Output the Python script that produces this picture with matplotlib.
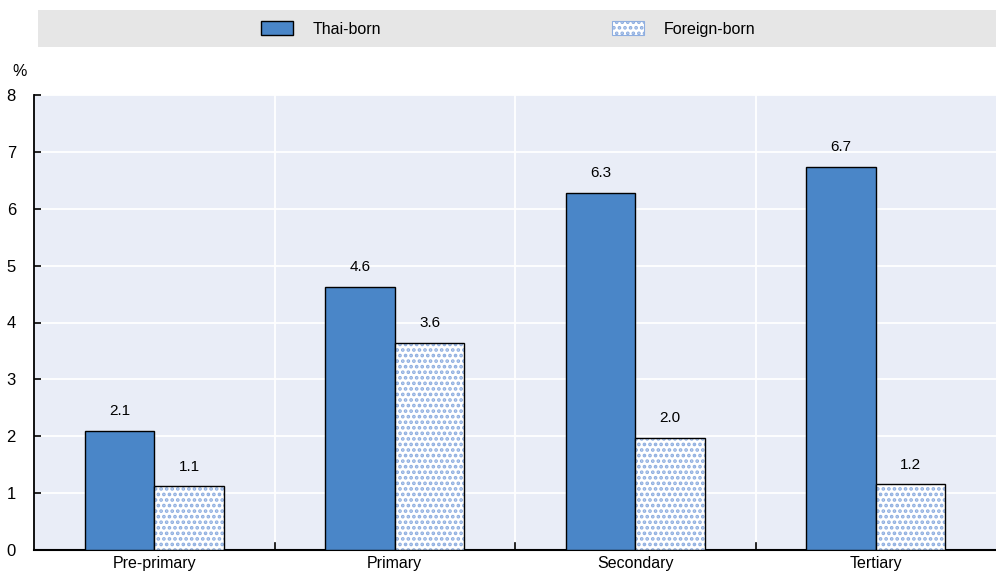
import matplotlib
matplotlib.use('Agg')
import matplotlib.pyplot as plt
import numpy as np
from matplotlib.patches import Rectangle

categories = ['Pre-primary', 'Primary', 'Secondary', 'Tertiary']
thai_born = [2.1, 4.6, 6.3, 6.7]
thai_heights = [2.1, 4.63, 6.28, 6.74]
foreign_born = [1.1, 3.6, 2.0, 1.2]
foreign_heights = [1.12, 3.64, 1.97, 1.16]

plt.rcParams['font.family'] = ['Liberation Sans', 'DejaVu Sans']
plt.rcParams['hatch.linewidth'] = 1.8

fig = plt.figure(figsize=(9.96, 5.75), dpi=100)
ax = fig.add_axes([34 / 996, 25 / 575, 962 / 996, 455 / 575])
ax.set_facecolor('#e9edf7')

x = np.arange(len(categories))
w = 0.29
bars1 = ax.bar(x - w / 2, thai_heights, w, color='#4a86c8', edgecolor='black',
               linewidth=1.0, zorder=3, label='Thai-born')
bars2 = ax.bar(x + w / 2, foreign_heights, w, color='white', edgecolor='#8eaee0',
               hatch='...', linewidth=0, zorder=3, label='Foreign-born')
# black outline for the dotted bars
ax.bar(x + w / 2, foreign_heights, w, color='none', edgecolor='black',
       linewidth=1.0, zorder=4)

for b, v in zip(bars1, thai_born):
    ax.text(b.get_x() + b.get_width() / 2, b.get_height() + 0.22, f'{v:.1f}',
            ha='center', va='bottom', fontsize=11)
for b, v in zip(bars2, foreign_born):
    ax.text(b.get_x() + b.get_width() / 2, b.get_height() + 0.22, f'{v:.1f}',
            ha='center', va='bottom', fontsize=11)

ax.set_xlim(-0.5, len(categories) - 0.5)
ax.set_ylim(0, 8)
ax.set_yticks(range(0, 9))
ax.set_xticks(x)
ax.set_xticklabels(categories, fontsize=11.5)
ax.tick_params(axis='x', length=0, pad=4)
ax.tick_params(axis='y', direction='in', length=5, width=1.2, labelsize=12, pad=13)

ax.grid(axis='y', color='white', linewidth=1.3, zorder=0)
for b in np.arange(0.5, len(categories) - 0.5, 1):
    ax.axvline(b, color='white', linewidth=1.3, zorder=0)
    ax.plot([b, b], [0, 0.12], color='black', linewidth=1.2, zorder=5)

for s in ['top', 'right']:
    ax.spines[s].set_visible(False)
ax.spines['left'].set_linewidth(1.3)
ax.spines['bottom'].set_linewidth(1.5)

fig.text(12 / 996, 1 - 72 / 575, '%', fontsize=11.5, va='center')

# legend band
fig.patches.append(Rectangle((38 / 996, 1 - 47 / 575), 958 / 996, 37 / 575,
                             transform=fig.transFigure, facecolor='#e6e6e6',
                             edgecolor='none', zorder=0))
handles = [
    Rectangle((0, 0), 1, 1, facecolor='#4a86c8', edgecolor='black', linewidth=1.0),
    Rectangle((0, 0), 1, 1, facecolor='white', edgecolor='#8eaee0', hatch='...',
              linewidth=0.8),
]
fig.legend(handles, ['Thai-born', 'Foreign-born'], loc='center',
           bbox_to_anchor=(508 / 996, 1 - 29 / 575), ncol=2, frameon=False,
           fontsize=11.5, columnspacing=14.5, handlelength=2.0, handleheight=1.0,
           handletextpad=1.2)

plt.savefig('out.png', dpi=100)
